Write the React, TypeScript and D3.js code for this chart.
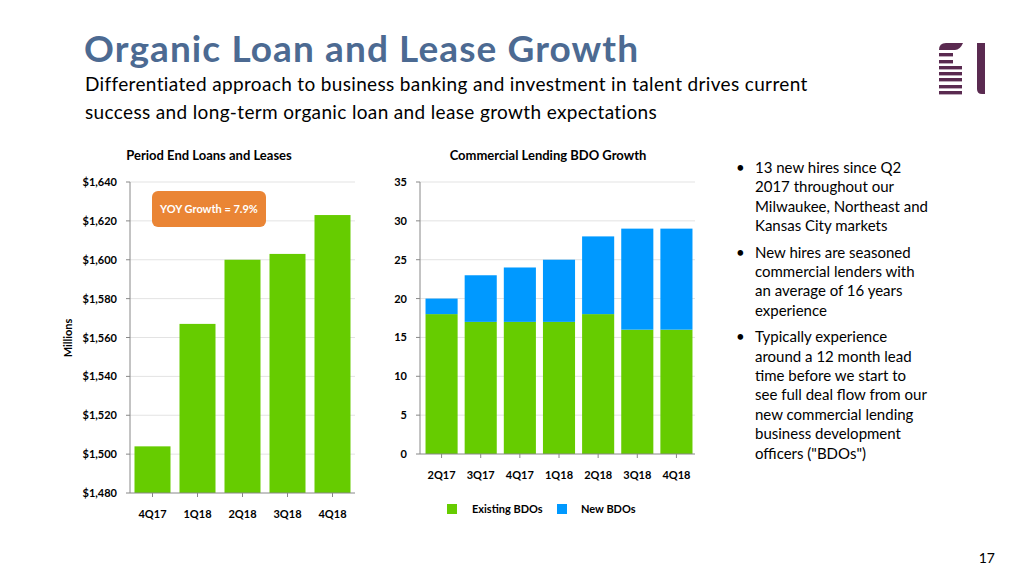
import React from "react";
import * as d3 from "d3";

const loanCategories = ["4Q17", "1Q18", "2Q18", "3Q18", "4Q18"];
const loanValues = [1504, 1567, 1600, 1603, 1623];
const loanTicks = [1480, 1500, 1520, 1540, 1560, 1580, 1600, 1620, 1640];

const bdoCategories = ["2Q17", "3Q17", "4Q17", "1Q18", "2Q18", "3Q18", "4Q18"];
const existingBDOs = [18, 17, 17, 17, 18, 16, 16];
const newBDOs = [2, 6, 7, 8, 10, 13, 13];
const bdoTicks = [0, 5, 10, 15, 20, 25, 30, 35];

const bullets = [
  ["13 new hires since Q2", "2017 throughout our", "Milwaukee, Northeast and", "Kansas City markets"],
  ["New hires are seasoned", "commercial lenders with", "an average of 16 years", "experience"],
  ["Typically experience", "around a 12 month lead", "time before we start to", "see full deal flow from our", "new commercial lending", "business development", "officers (\"BDOs\")"],
];

const GREEN = "#66CC00";
const BLUE = "#0099FF";
const FONT = "Lato, 'Open Sans', sans-serif";

export default function App() {
  // Left chart
  const lx = d3.scaleBand().domain(loanCategories).range([130, 355]).paddingInner(0.2).paddingOuter(0.1);
  const ly = d3.scaleLinear().domain([1480, 1640]).range([493, 182]);
  const fmt = (v: number) => "$" + d3.format(",")(v);

  // Right chart
  const rx = d3.scaleBand().domain(bdoCategories).range([422, 696]).paddingInner(0.18).paddingOuter(0.09);
  const ry = d3.scaleLinear().domain([0, 35]).range([454, 182]);
  const stacked = d3.stack<any>().keys(["existing", "new"])(
    bdoCategories.map((c, i) => ({ cat: c, existing: existingBDOs[i], new: newBDOs[i] }))
  );
  const colors: Record<string, string> = { existing: GREEN, new: BLUE };

  let lineY = 173;
  const bulletEls: React.ReactNode[] = [];
  bullets.forEach((b, bi) => {
    b.forEach((line, li) => {
      if (li === 0) {
        bulletEls.push(
          <text key={`b${bi}`} x={736} y={lineY} fontSize={15} fill="#000" fontFamily={FONT}>•</text>
        );
      }
      bulletEls.push(
        <text key={`t${bi}-${li}`} x={755} y={lineY} fontSize={15} fill="#000" fontFamily={FONT}>{line}</text>
      );
      lineY += 19.4;
    });
    lineY += 7;
  });

  return (
    <svg width={1024} height={576} style={{ position: "absolute", left: 0, top: 0, background: "#fff" }} fontFamily={FONT}>
      <rect x={0} y={0} width={1024} height={576} fill="#fff" />
      {/* Title */}
      <text x={84} y={62} fontSize={37} fontWeight="bold" fill="#4C6A92" letterSpacing={1.1}>Organic Loan and Lease Growth</text>
      <text x={85} y={91} fontSize={19} fill="#000" letterSpacing={0.35}>Differentiated approach to business banking and investment in talent drives current</text>
      <text x={85} y={119} fontSize={19} fill="#000" letterSpacing={0.35}>success and long-term organic loan and lease growth expectations</text>

      {/* Logo */}
      <g fill="#5A2A50">
        <path d="M939,50 Q939,43 946,43 L963,43 Q960,50 955,50 Z" />
        {[53, 60].map((y) => <rect key={y} x={939} y={y} width={14} height={3.4} />)}
        {[66, 72, 78, 85, 91].map((y) => <rect key={y} x={939} y={y} width={23} height={3.4} />)}
        <path d="M977,43 L985,43 L985,94 L982,94 Q977,94 977,89 Z" />
      </g>

      {/* Left chart */}
      <text x={209} y={160} textAnchor="middle" fontSize={13} fontWeight="bold">Period End Loans and Leases</text>
      {loanTicks.map((t) => (
        <g key={t}>
          {t !== 1480 && <line x1={130} x2={355} y1={ly(t)} y2={ly(t)} stroke="#E3E3E3" />}
          <line x1={126} x2={130} y1={ly(t)} y2={ly(t)} stroke="#888" />
          <text x={117} y={ly(t) + 4} textAnchor="end" fontSize={11} fontWeight="bold">{fmt(t)}</text>
        </g>
      ))}
      {loanCategories.map((c, i) => (
        <rect key={c} x={lx(c)!} y={ly(loanValues[i])} width={lx.bandwidth()} height={ly(1480) - ly(loanValues[i])} fill={GREEN} />
      ))}
      <line x1={130} x2={130} y1={182} y2={493} stroke="#888" />
      <line x1={130} x2={355} y1={493} y2={493} stroke="#888" />
      {loanCategories.map((c) => (
        <g key={c}>
          <line x1={lx(c)! + lx.bandwidth() / 2} x2={lx(c)! + lx.bandwidth() / 2} y1={493} y2={497} stroke="#888" />
          <text x={lx(c)! + lx.bandwidth() / 2} y={518} textAnchor="middle" fontSize={11} fontWeight="bold">{c}</text>
        </g>
      ))}
      <text transform="translate(72,338) rotate(-90)" textAnchor="middle" fontSize={11} fontWeight="bold">Millions</text>
      <rect x={152} y={191} width={114} height={36} rx={6} fill="#EA8535" />
      <text x={209} y={213} textAnchor="middle" fontSize={11} fontWeight="bold" fill="#fff">YOY Growth = 7.9%</text>

      {/* Right chart */}
      <text x={548} y={160} textAnchor="middle" fontSize={13} fontWeight="bold">Commercial Lending BDO Growth</text>
      {bdoTicks.map((t) => (
        <g key={t}>
          {t !== 0 && <line x1={420} x2={695} y1={ry(t)} y2={ry(t)} stroke="#E3E3E3" />}
          <line x1={416} x2={420} y1={ry(t)} y2={ry(t)} stroke="#888" />
          <text x={407} y={ry(t) + 4} textAnchor="end" fontSize={11} fontWeight="bold">{t}</text>
        </g>
      ))}
      {stacked.map((s) => (
        <g key={s.key} fill={colors[s.key]}>
          {s.map((d, i) => (
            <rect key={i} x={rx(bdoCategories[i])!} y={ry(d[1])} width={rx.bandwidth()} height={ry(d[0]) - ry(d[1])} />
          ))}
        </g>
      ))}
      <line x1={420} x2={420} y1={182} y2={454} stroke="#888" />
      <line x1={420} x2={695} y1={454} y2={454} stroke="#888" />
      {bdoCategories.map((c) => (
        <g key={c}>
          <line x1={rx(c)! + rx.bandwidth() / 2} x2={rx(c)! + rx.bandwidth() / 2} y1={454} y2={458} stroke="#888" />
          <text x={rx(c)! + rx.bandwidth() / 2} y={479} textAnchor="middle" fontSize={11} fontWeight="bold">{c}</text>
        </g>
      ))}
      {/* Legend */}
      <rect x={447} y={504} width={10} height={10} fill={GREEN} />
      <text x={472} y={513} fontSize={11} fontWeight="bold">Existing BDOs</text>
      <rect x={557} y={504} width={10} height={10} fill={BLUE} />
      <text x={581} y={513} fontSize={11} fontWeight="bold">New BDOs</text>

      {/* Bullets */}
      {bulletEls}

      <text x={995} y={563} textAnchor="end" fontSize={14}>17</text>
    </svg>
  );
}
